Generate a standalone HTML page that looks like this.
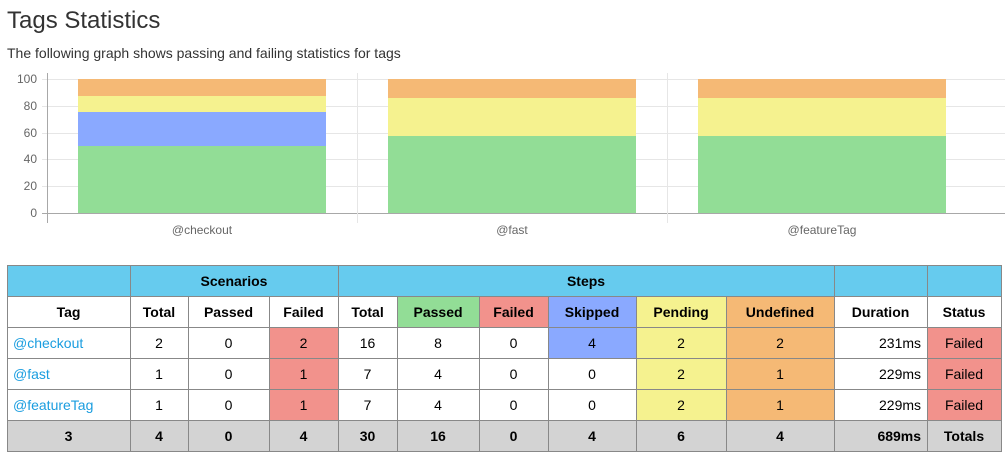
<!DOCTYPE html>
<html lang="en">
<head>
<meta charset="utf-8">
<title>Tags Statistics</title>
<style>
html,body{margin:0;padding:0;background:#fff;width:1005px;height:457px;overflow:hidden;}
body{font-family:"Liberation Sans",sans-serif;color:#333;position:relative;}
h2{position:absolute;left:7px;top:7px;margin:0;font-size:24px;font-weight:400;line-height:28px;color:#333;white-space:nowrap;}
p{position:absolute;left:7px;top:43px;margin:0;font-size:14px;line-height:20px;color:#333;white-space:nowrap;}
#chart{position:absolute;left:0;top:0;}
#chart text{font-family:"Liberation Sans",sans-serif;font-size:12px;fill:#666;}
table{position:absolute;left:7px;top:265px;width:995px;border-collapse:collapse;table-layout:fixed;font-size:14px;color:#000;}
td,th{border:1px solid #888;height:30px;padding:0 1px 0 0;text-align:center;vertical-align:middle;box-sizing:border-box;background:#fff;overflow:hidden;line-height:30px;}
tr{height:31px;}
th{font-weight:700;}
.hd th{background:#66cbee;}
.pass{background:#92dd96;}
.fail{background:#f2928c;}
.skip{background:#8aa9ff;}
.pend{background:#f5f28f;}
.undf{background:#f5b975;}
td.tag{text-align:left;padding:0 0 0 5px;}
td.tag a{color:#1a9ddf;text-decoration:none;}
td.dur{text-align:right;padding:0 6px 0 0;}
tr.tot td{background:#d3d3d3;font-weight:700;}
</style>
</head>
<body>
<h2>Tags Statistics</h2>
<p>The following graph shows passing and failing statistics for tags</p>
<svg id="chart" width="1005" height="245" viewBox="0 0 1005 245"></svg>

<table>
<colgroup><col style="width:123px"><col style="width:58px"><col style="width:81px"><col style="width:69px"><col style="width:59px"><col style="width:82px"><col style="width:69px"><col style="width:88px"><col style="width:90px"><col style="width:108px"><col style="width:93px"><col style="width:74px"></colgroup>
<thead>
<tr class="hd">
<th></th>
<th colspan="3">Scenarios</th>
<th colspan="6">Steps</th>
<th></th>
<th></th>
</tr>
<tr>
<th>Tag</th>
<th>Total</th>
<th>Passed</th>
<th>Failed</th>
<th>Total</th>
<th class="pass">Passed</th>
<th class="fail">Failed</th>
<th class="skip">Skipped</th>
<th class="pend">Pending</th>
<th class="undf">Undefined</th>
<th>Duration</th>
<th>Status</th>
</tr>
</thead>
<tbody>
<tr>
<td class="tag"><a href="#checkout">@checkout</a></td>
<td>2</td><td>0</td><td class="fail">2</td><td>16</td><td>8</td><td>0</td><td class="skip">4</td><td class="pend">2</td><td class="undf">2</td><td class="dur">231ms</td><td class="fail">Failed</td>
</tr>
<tr>
<td class="tag"><a href="#fast">@fast</a></td>
<td>1</td><td>0</td><td class="fail">1</td><td>7</td><td>4</td><td>0</td><td>0</td><td class="pend">2</td><td class="undf">1</td><td class="dur">229ms</td><td class="fail">Failed</td>
</tr>
<tr>
<td class="tag"><a href="#featureTag">@featureTag</a></td>
<td>1</td><td>0</td><td class="fail">1</td><td>7</td><td>4</td><td>0</td><td>0</td><td class="pend">2</td><td class="undf">1</td><td class="dur">229ms</td><td class="fail">Failed</td>
</tr>
<tr class="tot">
<td>3</td><td>4</td><td>0</td><td>4</td><td>30</td><td>16</td><td>0</td><td>4</td><td>6</td><td>4</td><td class="dur">689ms</td><td>Totals</td>
</tr>
</tbody>
</table>

<script>
const categories = ['@checkout', '@fast', '@featureTag'];
const passedPct = [50, 57.14, 57.14];
const failedPct = [0, 0, 0];
const skippedPct = [25, 0, 0];
const pendingPct = [12.5, 28.57, 28.57];
const undefinedPct = [12.5, 14.29, 14.29];
const yTicks = [0, 20, 40, 60, 80, 100];

const NS = 'http://www.w3.org/2000/svg';
const svg = document.getElementById('chart');
const plotLeft = 47, plotRight = 1005, catWidth = 310, barWidth = 248;
const y0 = 212.95, yUnit = 1.34;
function yScale(v) { return y0 - v * yUnit; }
function catLeft(i) { return plotLeft + i * catWidth; }
function make(tag, attrs, parent) {
  const el = document.createElementNS(NS, tag);
  for (const k in attrs) el.setAttribute(k, attrs[k]);
  (parent || svg).appendChild(el);
  return el;
}
yTicks.forEach(function (t) {
  const y = Math.round(yScale(t));
  const line = make('rect', { x: 42, y: y, width: plotRight - 42, height: 1, fill: t === 0 ? '#a8a8a8' : '#e6e6e6' });
  
  
  const label = make('text', { x: 37, y: y + 4, 'text-anchor': 'end' });
  label.textContent = t;
  
  
});
categories.forEach(function (c, i) {
  const line = make('rect', { x: catLeft(i), y: 73, width: 1, height: 150, fill: i === 0 ? '#a8a8a8' : '#e6e6e6' });
  
  
});
const seriesList = [
  { key: 'passed', values: passedPct, color: '#92dd96' },
  { key: 'failed', values: failedPct, color: '#f2928c' },
  { key: 'skipped', values: skippedPct, color: '#8aa9ff' },
  { key: 'pending', values: pendingPct, color: '#f5f28f' },
  { key: 'undefined', values: undefinedPct, color: '#f5b975' }
];
categories.forEach(function (c, i) {
  const left = catLeft(i) + (catWidth - barWidth) / 2;
  let acc = 0;
  seriesList.forEach(function (s) {
    const v = s.values[i];
    const top = Math.round(yScale(acc + v));
    const bottom = Math.round(yScale(acc));
    acc += v;
    if (v <= 0) return;
    const bar = make('rect', { x: left, y: top, width: barWidth, height: bottom - top, fill: s.color });
    
    
  });
  const label = make('text', { x: catLeft(i) + catWidth / 2, y: 234, 'text-anchor': 'middle' });
  label.textContent = c;
  
  
});
</script>
</body>
</html>
